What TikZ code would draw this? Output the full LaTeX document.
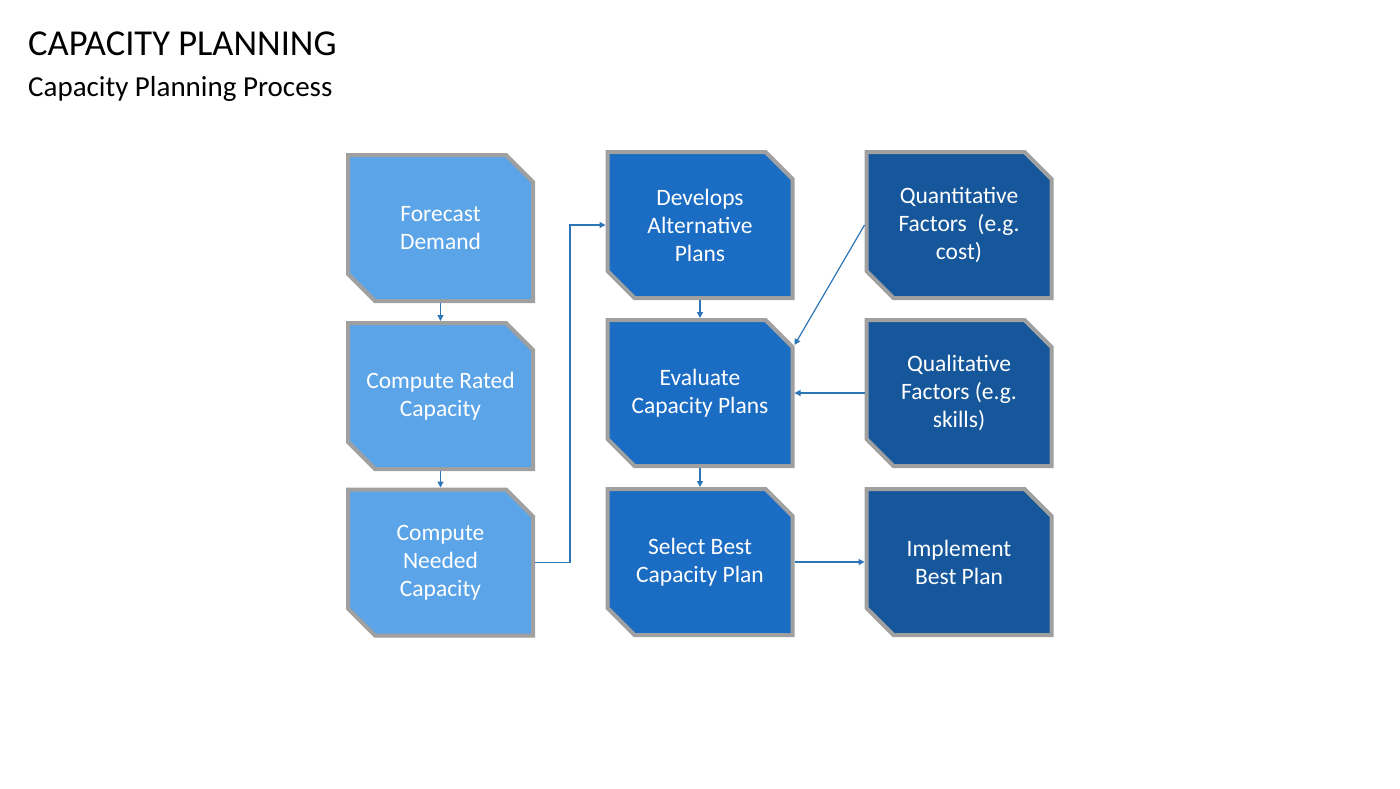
\documentclass[tikz,border=0pt]{standalone}
\usepackage{fontspec}
\setmainfont{Carlito}
\usetikzlibrary{shapes.misc,arrows.meta,shadows}
\definecolor{c1}{HTML}{5BA4E8}
\definecolor{c2}{HTML}{1B6CC3}
\definecolor{c3}{HTML}{16579B}
\definecolor{bord}{HTML}{A0A0A0}
\definecolor{conn}{HTML}{2E75B6}
\begin{document}
\begin{tikzpicture}[x=1pt,y=-1pt,
  box/.style={chamfered rectangle, chamfered rectangle corners={north east,south west},
    chamfered rectangle xsep=13.5pt, chamfered rectangle ysep=13.5pt,
    minimum width=185pt, minimum height=146pt, inner sep=0pt,
    draw=bord, line width=4pt, text=white, align=center,
    font=\fontsize{23.5}{28}\selectfont,
    drop shadow={shadow xshift=1.5pt, shadow yshift=-1.5pt, opacity=0.35}},
  b1/.style={box, fill=c1},
  b2/.style={box, fill=c2},
  b3/.style={box, fill=c3},
  con/.style={draw=conn, line width=1.2pt, -{Triangle[length=6pt,width=6pt]}}]
\useasboundingbox (0,0) rectangle (1400,788);
\node[anchor=base west, inner sep=0pt, font=\fontsize{36.5}{40}\selectfont] (title) at (28,55) {CAPACITY PLANNING};
\node[anchor=base west, inner sep=0pt, font=\fontsize{29}{32}\selectfont] (sub) at (28,96) {Capacity Planning Process};

\node[b1] (fd) at (440.5,228) {Forecast\\Demand};
\node[b1] (cr) at (440.5,396) {Compute Rated\\Capacity};
\node[b1] (cn) at (440.5,562.5) {Compute\\Needed\\Capacity};

\node[b2] (dp) at (700,225) {Develops\\Alternative\\Plans};
\node[b2] (ev) at (700,393) {Evaluate\\Capacity Plans};
\node[b2] (sb) at (700,562) {Select Best\\Capacity Plan};

\node[b3] (qn) at (959,225) {Quantitative\\Factors\ \ (e.g.\\cost)};
\node[b3] (ql) at (959,393) {Qualitative\\Factors (e.g.\\skills)};
\node[b3] (ib) at (959,562) {Implement\\Best Plan};

\draw[con] (fd.south) -- (cr.north);
\draw[con] (cr.south) -- (cn.north);
\draw[con] (cn.east) -- (570,562.5) |- (dp.west);
\draw[con] (dp.south) -- (ev.north);
\draw[con] (qn.west) -- ([yshift=48pt]ev.east);
\draw[con] (ql.west) -- (ev.east);
\draw[con] (ev.south) -- (sb.north);
\draw[con] (sb.east) -- (ib.west);
\end{tikzpicture}
\end{document}
